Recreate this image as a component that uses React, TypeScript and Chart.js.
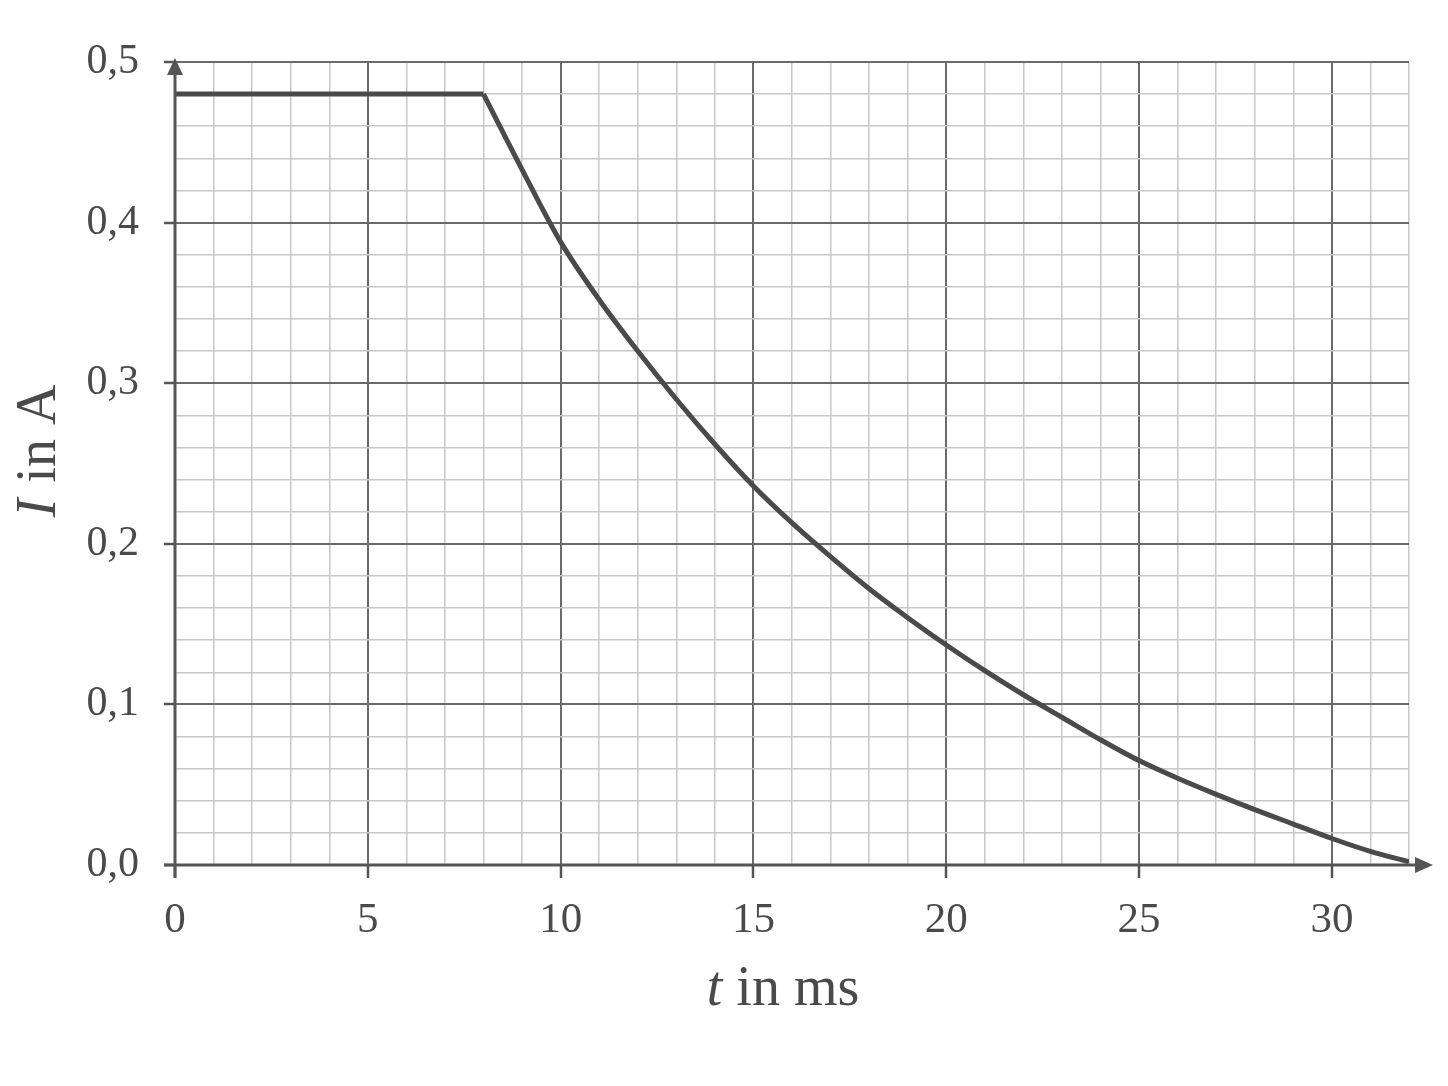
import React, { useEffect, useRef } from 'react';
import { Chart, registerables } from 'chart.js';

Chart.register(...registerables);

// ---- data ----
const plateauTime = [0, 8];
const plateauCurrent = [0.48, 0.48];
const decayTime = [8, 9, 10, 11, 12, 13, 14, 15, 16, 17, 18, 19, 20, 21, 22, 23, 24, 25, 26, 27, 28, 29, 30, 31, 32];
const decayCurrent = [0.48, 0.433, 0.388, 0.352, 0.32, 0.29, 0.262, 0.236, 0.213, 0.192, 0.172, 0.154, 0.137, 0.121, 0.106, 0.092, 0.078, 0.065, 0.054, 0.044, 0.0345, 0.0255, 0.0165, 0.0085, 0.002];

const xMajorTicks = [0, 5, 10, 15, 20, 25, 30];
const xTickLabels = ['0', '5', '10', '15', '20', '25', '30'];
const yMajorTicks = [0, 0.1, 0.2, 0.3, 0.4, 0.5];
const yTickLabels = ['0,0', '0,1', '0,2', '0,3', '0,4', '0,5'];

const xTitleItalic = 't';
const xTitleRest = ' in ms';
const yTitleItalic = 'I';
const yTitleRest = ' in A';

// ---- style ----
const FONT = '"Liberation Serif", "Times New Roman", serif';
const TEXT = '#4a4a4a';
const MAJOR = '#6a6a6a';
const MINOR = '#c8c8c8';
const AXIS = '#555555';
const CURVE = '#4a4a4a';
const TRANSPARENT = 'rgba(0,0,0,0)';

const majorIndex = (list: number[], v: number) => list.findIndex((m) => Math.abs(m - v) < 1e-6);

const axesPlugin = {
  id: 'axesArrowsTitles',
  afterDatasetsDraw(chart: any) {
    const { ctx, chartArea, scales } = chart;
    const x0 = scales.x.getPixelForValue(0);
    const y0 = scales.y.getPixelForValue(0);
    ctx.save();
    ctx.strokeStyle = AXIS;
    ctx.fillStyle = AXIS;
    ctx.lineWidth = 3;
    // x axis
    ctx.beginPath();
    ctx.moveTo(x0 - 11, y0);
    ctx.lineTo(chartArea.right + 12, y0);
    ctx.stroke();
    ctx.beginPath();
    ctx.moveTo(chartArea.right + 24, y0);
    ctx.lineTo(chartArea.right + 6, y0 - 8);
    ctx.lineTo(chartArea.right + 6, y0 + 8);
    ctx.closePath();
    ctx.fill();
    // y axis
    ctx.beginPath();
    ctx.moveTo(x0, y0 + 13);
    ctx.lineTo(x0, chartArea.top + 10);
    ctx.stroke();
    ctx.beginPath();
    ctx.moveTo(x0, chartArea.top - 4);
    ctx.lineTo(x0 - 8, chartArea.top + 13);
    ctx.lineTo(x0 + 8, chartArea.top + 13);
    ctx.closePath();
    ctx.fill();
    ctx.restore();
  },
  afterDraw(chart: any) {
    const { ctx, chartArea } = chart;
    const italic = `italic 56px ${FONT}`;
    const normal = `56px ${FONT}`;
    ctx.save();
    ctx.fillStyle = TEXT;
    ctx.textBaseline = 'alphabetic';
    ctx.textAlign = 'left';
    // x title
    ctx.font = italic;
    const wi = ctx.measureText(xTitleItalic).width;
    ctx.font = normal;
    const wr = ctx.measureText(xTitleRest).width;
    const cx = (chartArea.left + chartArea.right) / 2 - 9;
    let sx = cx - (wi + wr) / 2;
    ctx.font = italic;
    ctx.fillText(xTitleItalic, sx, 1005);
    ctx.font = normal;
    ctx.fillText(xTitleRest, sx + wi, 1005);
    // y title
    ctx.translate(55, 452);
    ctx.rotate(-Math.PI / 2);
    ctx.font = italic;
    const yi = ctx.measureText(yTitleItalic).width;
    ctx.font = normal;
    const yr = ctx.measureText(yTitleRest).width;
    sx = -(yi + yr) / 2;
    ctx.font = italic;
    ctx.fillText(yTitleItalic, sx, 0);
    ctx.font = normal;
    ctx.fillText(yTitleRest, sx + yi + 2, 0);
    ctx.restore();
  },
};

export default function App() {
  const canvasRef = useRef<HTMLCanvasElement | null>(null);

  useEffect(() => {
    if (!canvasRef.current) return;
    const chart = new Chart(canvasRef.current, {
      type: 'line',
      data: {
        datasets: [
          {
            data: plateauTime.map((t, i) => ({ x: t, y: plateauCurrent[i] })),
            borderColor: CURVE,
            borderWidth: 5,
            pointRadius: 0,
            fill: false,
            tension: 0,
          },
          {
            data: decayTime.map((t, i) => ({ x: t, y: decayCurrent[i] })),
            borderColor: CURVE,
            borderWidth: 5,
            pointRadius: 0,
            fill: false,
            cubicInterpolationMode: 'monotone',
          },
        ],
      },
      options: {
        animation: false,
        responsive: true,
        maintainAspectRatio: false,
        layout: { padding: { left: 0, right: 39, top: 62, bottom: 0 } },
        plugins: { legend: { display: false }, tooltip: { enabled: false } },
        scales: {
          x: {
            type: 'linear',
            min: 0,
            max: 32,
            afterFit: (scale: any) => {
              scale.height = 221;
            },
            border: { display: false },
            grid: {
              color: (c: any) => (c.tick && majorIndex(xMajorTicks, c.tick.value) >= 0 ? MAJOR : MINOR),
              lineWidth: (c: any) => (c.tick && majorIndex(xMajorTicks, c.tick.value) >= 0 ? 2 : 1.5),
              tickColor: (c: any) => (c.tick && majorIndex(xMajorTicks, c.tick.value) >= 0 ? AXIS : TRANSPARENT),
              tickLength: 13,
              tickWidth: 2.5,
            },
            ticks: {
              stepSize: 1,
              autoSkip: false,
              maxRotation: 0,
              padding: 17,
              color: TEXT,
              font: { family: FONT, size: 43 },
              callback: (v: any) => {
                const i = majorIndex(xMajorTicks, Number(v));
                return i >= 0 ? xTickLabels[i] : '';
              },
            },
          },
          y: {
            type: 'linear',
            min: 0,
            max: 0.5,
            afterFit: (scale: any) => {
              scale.width = 175;
            },
            border: { display: false },
            grid: {
              color: (c: any) => (c.tick && majorIndex(yMajorTicks, c.tick.value) >= 0 ? MAJOR : MINOR),
              lineWidth: (c: any) => (c.tick && majorIndex(yMajorTicks, c.tick.value) >= 0 ? 2 : 1.5),
              tickColor: (c: any) => (c.tick && majorIndex(yMajorTicks, c.tick.value) >= 0 ? AXIS : TRANSPARENT),
              tickLength: 11,
              tickWidth: 2.5,
            },
            ticks: {
              stepSize: 0.02,
              autoSkip: false,
              padding: 25,
              color: TEXT,
              font: { family: FONT, size: 42 },
              callback: (v: any) => {
                const i = majorIndex(yMajorTicks, Number(v));
                return i >= 0 ? yTickLabels[i] : '';
              },
            },
          },
        },
      },
      plugins: [axesPlugin],
    } as any);
    return () => chart.destroy();
  }, []);

  return (
    <div style={{ position: 'absolute', left: 0, top: 0, width: 1448, height: 1086, background: '#ffffff' }}>
      <canvas ref={canvasRef} />
    </div>
  );
}
